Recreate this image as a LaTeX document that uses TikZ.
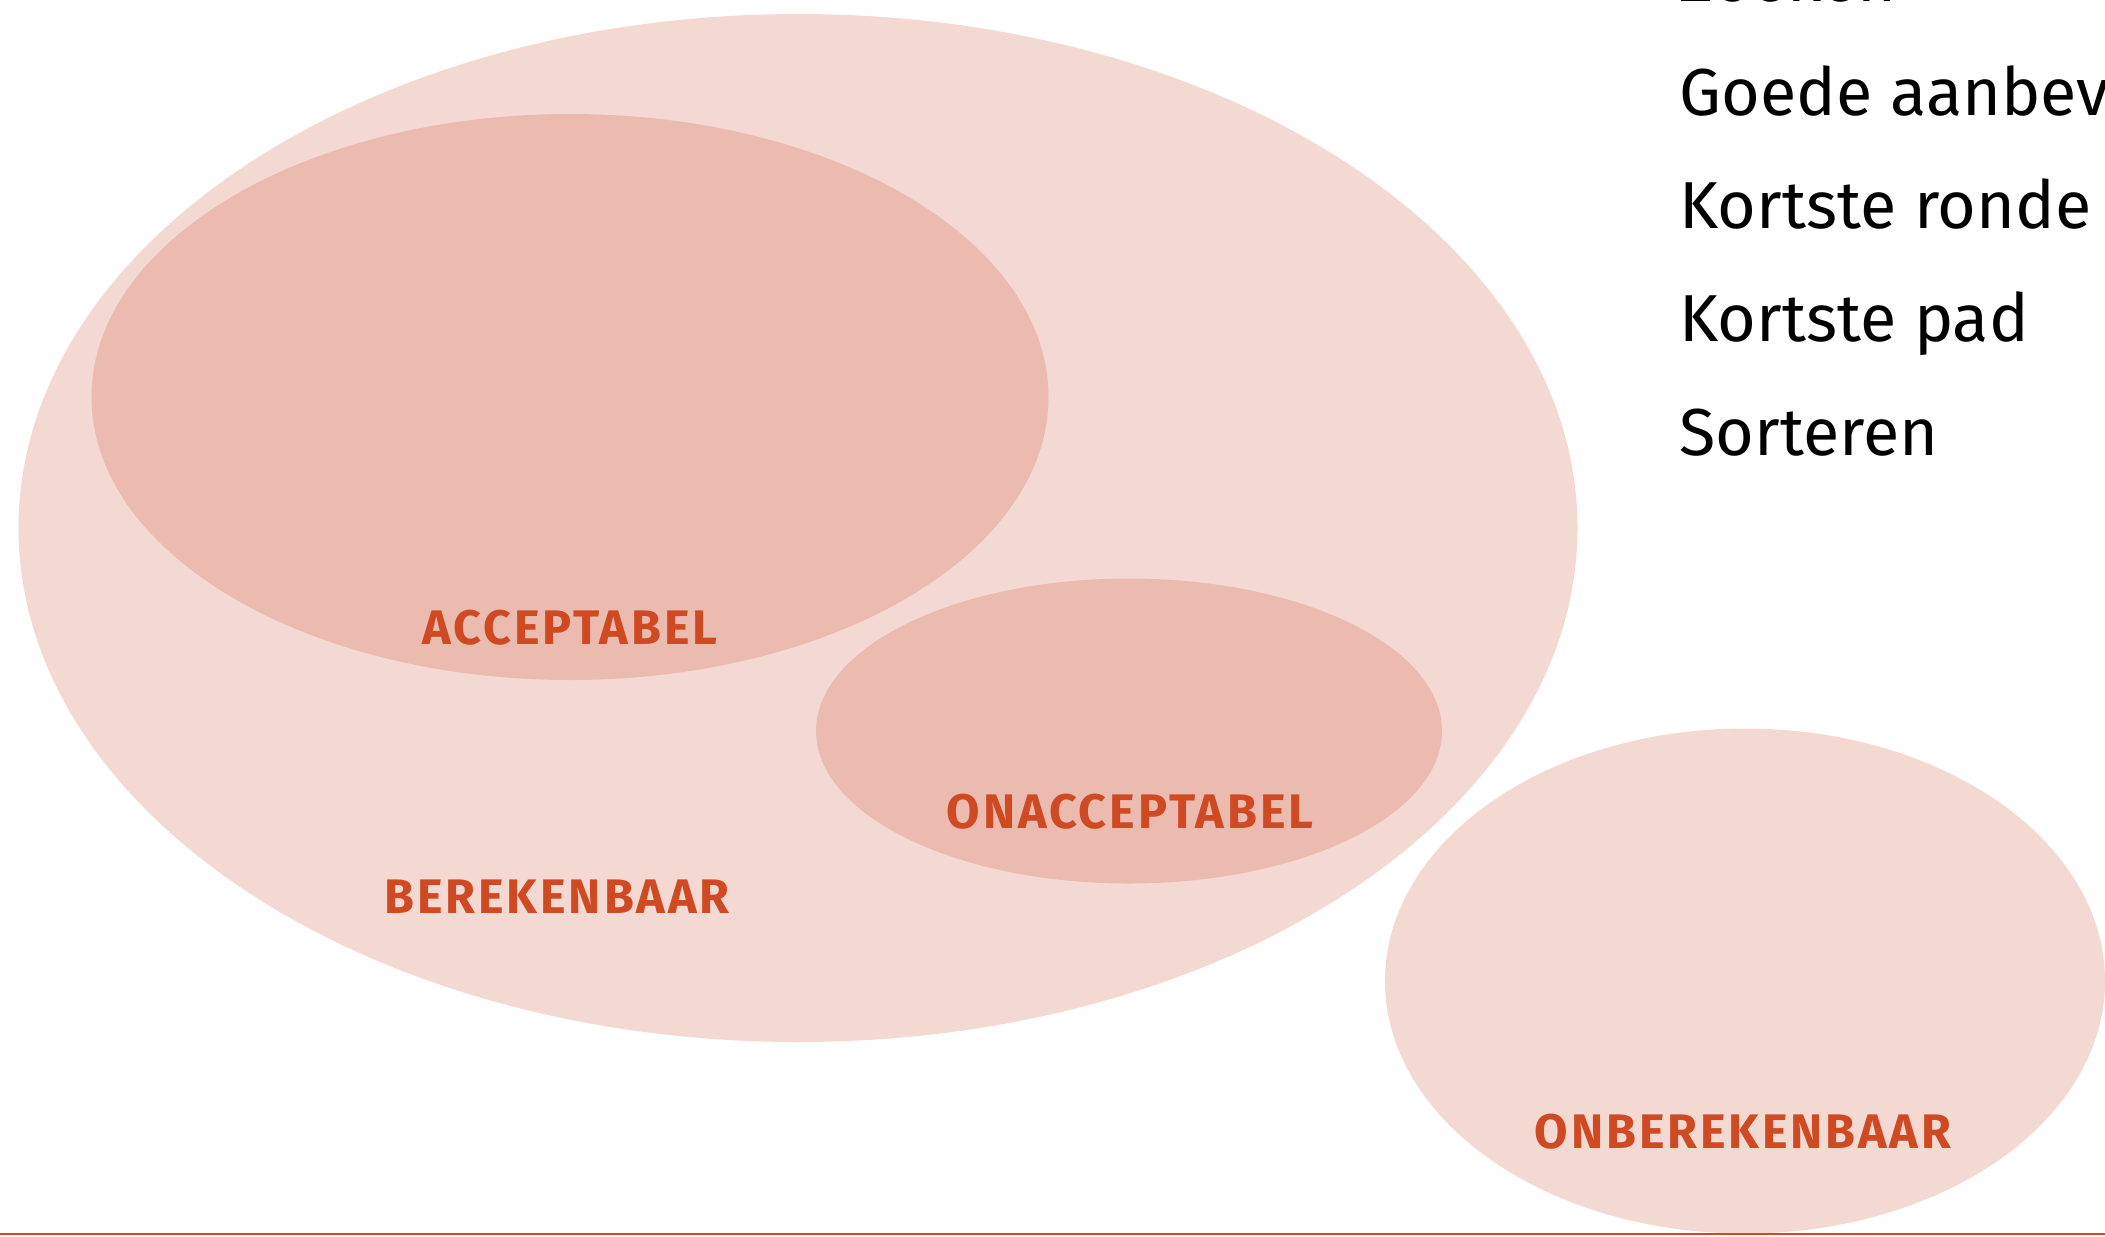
\documentclass[tikz,border=0pt]{standalone}
\usepackage{fontspec}
\setmainfont{Fira Sans}
\newfontfamily\labelfont[LetterSpace=6]{Fira Sans}
\usepackage{tikz}
\usetikzlibrary{positioning,shapes}
\usepackage{xcolor}

\definecolor{setlight}{HTML}{F4D9D3}
\definecolor{setdark}{HTML}{EBBBAF}
\definecolor{setlabel}{HTML}{CF4A23}

\begin{document}
\begin{tikzpicture}[x=0.1mm, y=-0.1mm]
	\tikzstyle{set}
	  =[ellipse, inner sep=0, outer sep=0, draw=none]
	\tikzstyle{setname}
	  =[text=setlabel, font=\labelfont\bfseries\fontsize{13.8}{16}\selectfont,
	  anchor=base, inner sep=0]
	\tikzstyle{problem}
	  =[font=\fontsize{18.9}{22}\selectfont, anchor=north west,
	  inner sep=0, text height=6mm, text depth=2mm]

	\useasboundingbox (0,0) rectangle (2105,1236);
	\clip (0,0) rectangle (2105,1236);

	\node[set, fill=setlight, minimum width=155.9mm, minimum height=102.8mm]
	  (berekenbaar) at (798,528) {};
	\node[set, fill=setdark, minimum width=95.7mm, minimum height=56.6mm]
	  (acceptabel) at (570,397) {};
	\node[set, fill=setdark, minimum width=62.6mm, minimum height=30.5mm]
	  (onacceptabel) at (1129,731) {};
	\node[set, fill=setlight, minimum width=72mm, minimum height=50.5mm]
	  (onberekenbaar) at (1745,981) {};

	\node[setname] (acc) at (570,644) {ACCEPTABEL};
	\node[setname] (ber) at (557,913) {BEREKENBAAR};
	\node[setname] (onacc) at (1130,828) {ONACCEPTABEL};
	\node[setname] (onber) at (1743,1148) {ONBEREKENBAAR};

	\node[problem] (zoeken) at (1679,-59) {Zoeken};
	\node[problem] (aanbev)
	  [below=3.2mm of zoeken.south west, anchor=north west]
	  {Goede aanbevelingen};
	\node[problem] (ronde)
	  [below=3.2mm of aanbev.south west, anchor=north west]
	  {Kortste ronde};
	\node[problem] (pad)
	  [below=3.2mm of ronde.south west, anchor=north west]
	  {Kortste pad};
	\node[problem] (sorteren)
	  [below=3.2mm of pad.south west, anchor=north west]
	  {Sorteren};

	\coordinate (lineleft) at (0,1234);
	\coordinate (lineright) at (2105,1234);
	\draw[setlabel, line width=0.2mm] (lineleft)--(lineright);
\end{tikzpicture}
\end{document}
